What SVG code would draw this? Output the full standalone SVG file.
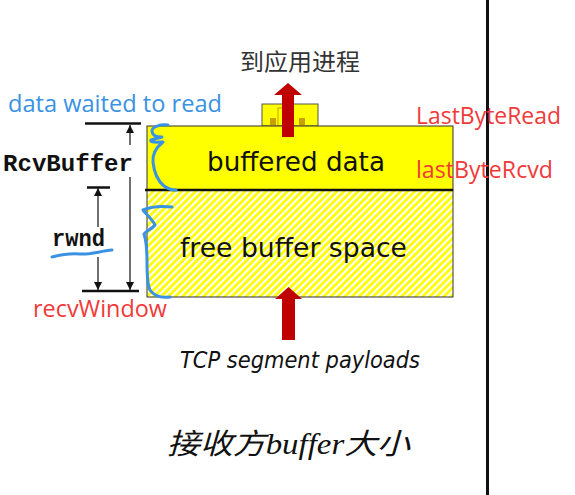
<svg xmlns="http://www.w3.org/2000/svg" width="575" height="495" viewBox="0 0 575 495">
  <style>
    .lbl-blue { font-family: "Open Sans", "Liberation Sans", sans-serif; fill: #3a92e2; font-size: 23px; }
    .lbl-red { font-family: "Open Sans", "Liberation Sans", sans-serif; fill: #f03a3a; font-size: 23px; }
    .mono { font-family: "Liberation Mono", "DejaVu Sans Mono", monospace; font-weight: bold; fill: #111; font-size: 23px; }
    .box-txt { font-family: "DejaVu Sans", "Liberation Sans", sans-serif; fill: #111; font-size: 27px; }
    .dim { stroke: #111; stroke-width: 1.2; fill: none; }
    .tick { stroke: #111; stroke-width: 2.5; }
    .brace { stroke: #3a92e2; stroke-width: 3; fill: none; stroke-linecap: round; stroke-linejoin: round; }
    .redarrow { fill: #c00000; }
  </style>
  <defs>
    <pattern id="hatch" patternUnits="userSpaceOnUse" width="5" height="5" patternTransform="rotate(45)">
      <rect width="5" height="5" fill="#ffff00"/>
      <rect x="0" y="0" width="2.2" height="5" fill="#ffffff"/>
    </pattern>
    <marker id="ah" markerWidth="8" markerHeight="8" refX="8" refY="4" orient="auto" markerUnits="userSpaceOnUse">
      <path d="M0,0 L8,4 L0,8 Z" fill="#111"/>
    </marker>
  </defs>

  <rect width="575" height="495" fill="#ffffff"/>

  <!-- right separator line -->
  <rect x="486" y="0" width="3" height="495" fill="#111"/>

  <g id="title-top">
    <text x="240" y="70" font-family="Noto Sans CJK SC, sans-serif" font-size="23" fill="#333" textLength="120" lengthAdjust="spacingAndGlyphs">到应用进程</text>
  </g>

  <g id="tab">
    <rect x="262" y="104" width="56" height="22" fill="#ffff00" stroke="#555" stroke-width="1"/>
    <rect x="278" y="108" width="14" height="18" fill="none" stroke="#c8a000" stroke-width="1"/>
    <rect x="270" y="118" width="6" height="8" fill="#c8a000"/>
    <rect x="299" y="118" width="6" height="8" fill="#c8a000"/>
  </g>

  <g id="buffered-data">
    <rect x="147" y="126" width="306" height="64" fill="#ffff00" stroke="#333" stroke-width="1"/>
    <text class="box-txt" x="207" y="171" textLength="178" lengthAdjust="spacingAndGlyphs">buffered data</text>
  </g>

  <g id="free-buffer-space">
    <rect x="147" y="190" width="306" height="107" fill="url(#hatch)" stroke="#333" stroke-width="1"/>
    <text class="box-txt" x="180" y="257" textLength="227" lengthAdjust="spacingAndGlyphs">free buffer space</text>
  </g>
  <line x1="145" y1="190" x2="453" y2="190" stroke="#111" stroke-width="2.5"/>

  <g id="arrow-up">
    <polygon class="redarrow" points="282,137 282,95 274,95 288,83 302,95 294,95 294,137"/>
  </g>
  <g id="arrow-in">
    <polygon class="redarrow" points="282,340 282,299 275,299 288.5,287 302,299 295,299 295,340"/>
  </g>

  <g id="tcp-label">
    <text x="180" y="368" font-family="DejaVu Sans, Liberation Sans, sans-serif" font-style="italic" font-size="23" fill="#111" textLength="240" lengthAdjust="spacingAndGlyphs">TCP segment payloads</text>
  </g>

  <g id="caption">
    <text x="167" y="454" font-family="Liberation Serif, Noto Sans CJK SC, serif" font-style="italic" font-size="29" fill="#111" textLength="243" lengthAdjust="spacingAndGlyphs">接收方buffer大小</text>
  </g>

  <g id="connectors">
    <line class="tick" x1="85" y1="123.5" x2="141" y2="123.5"/>
    <line class="tick" x1="87" y1="187.5" x2="110" y2="187.5"/>
    <line class="tick" x1="82" y1="291" x2="139" y2="291"/>
    <line class="dim" x1="130" y1="145" x2="130" y2="125" marker-end="url(#ah)"/>
    <line class="dim" x1="130" y1="177" x2="130" y2="290" marker-end="url(#ah)"/>
    <line class="dim" x1="98" y1="227" x2="98" y2="188" marker-end="url(#ah)"/>
    <line class="dim" x1="98" y1="257" x2="98" y2="290" marker-end="url(#ah)"/>
  </g>

  <g id="rcvbuffer-label">
    <text class="mono" x="3" y="171" textLength="130" lengthAdjust="spacingAndGlyphs">RcvBuffer</text>
  </g>
  <g id="rwnd-label">
    <text class="mono" x="52" y="246" textLength="53" lengthAdjust="spacingAndGlyphs">rwnd</text>
    <path class="brace" d="M52,257 C60,255 70,253 80,254 C90,255 100,251 112,250"/>
  </g>

  <g id="annotations">
    <text class="lbl-blue" x="8" y="112" textLength="214" lengthAdjust="spacingAndGlyphs">data waited to read</text>
    <text class="lbl-red" x="33" y="317" textLength="134" lengthAdjust="spacingAndGlyphs">recvWindow</text>
    <text class="lbl-red" x="416" y="124" textLength="145" lengthAdjust="spacingAndGlyphs">LastByteRead</text>
    <text class="lbl-red" x="416" y="178" textLength="137" lengthAdjust="spacingAndGlyphs">lastByteRcvd</text>
    <path class="brace" d="M168,125 C160,124 152,127 152,131 C152,136 158,137 162,137 L151,140 C149,143 160,142 163,142 C158,146 152,152 153,162 C154,172 158,181 164,186 C168,189 172,190 176,190"/>
    <path class="brace" d="M172,207 C162,206 150,207 143,210 C146,214 153,220 155,225 C152,229 146,231 144,234 C146,240 147,252 147,262 C147,274 147,284 150,290 C154,296 162,298 170,297"/>
  </g>
</svg>
